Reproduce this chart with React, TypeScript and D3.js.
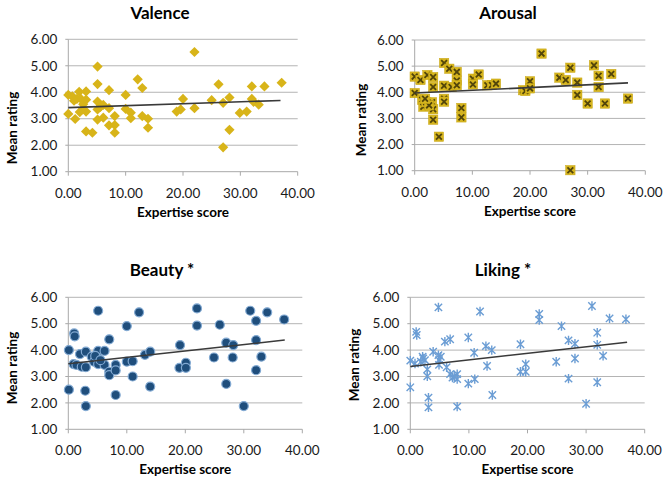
import React from "react";
import * as d3 from "d3";

// ---------- DATA ----------
const xTicks = [0, 10, 20, 30, 40];
const yTicks = [1, 2, 3, 4, 5, 6];
const panelTitles = ["Valence", "Arousal", "Beauty *", "Liking *"];
const xAxisTitle = "Expertise score";
const yAxisTitle = "Mean rating";

const valence: [number, number][] = [
  [0, 3.9], [0, 3.18], [0.7, 3.85], [1.2, 2.99], [1.5, 3.75], [1.9, 4.02], [2.2, 3.75], [2, 3.25],
  [2.6, 3.55], [3.1, 4.03], [3.1, 3.72], [3.1, 3.27], [3.1, 2.52], [4.2, 2.47], [5.1, 4.97], [5.1, 4.31],
  [5.1, 3.65], [5.1, 3.35], [5.1, 2.97], [5.6, 3.45], [6.1, 3.52], [6.1, 3.04], [7.1, 4.08], [7.1, 3.4],
  [7.1, 2.75], [8.1, 3.1], [8.1, 2.76], [8.1, 2.47], [10, 3.9], [10, 3.37], [10.9, 3.23], [10.9, 3.02],
  [12.1, 4.49], [12.9, 4.16], [12.9, 3.1], [13.9, 3.0], [13.9, 2.66], [18.9, 3.27], [19.6, 3.35], [20, 3.75],
  [22, 5.52], [22, 3.4], [25, 3.7], [26.2, 4.3], [27, 3.6], [27, 1.92], [28.1, 3.8], [28.1, 2.58],
  [29.9, 3.22], [31.1, 3.27], [32, 4.22], [32, 3.75], [32.3, 3.64], [33.2, 3.53], [34.2, 4.22], [37.2, 4.36],
  [1, 3.68], [2.5, 3.35],
];

const arousal: [number, number][] = [
  [0, 4.6], [0, 3.97], [1, 4.47], [1.3, 3.71], [1.5, 3.45], [2.2, 4.66], [2, 3.62], [3.2, 4.58],
  [3.2, 4.2], [3, 3.62], [3.2, 3.35], [3.2, 2.95], [4.2, 2.3], [5.1, 5.12], [5.1, 4.25], [5.1, 3.75],
  [5.1, 3.64], [6, 4.9], [6.4, 4.2], [7.3, 4.78], [7.3, 4.45], [7.3, 4.27], [8.1, 3.4], [8.1, 3.04],
  [10.1, 4.52], [10.1, 4.3], [11.1, 4.68], [12.6, 4.27], [13.4, 4.28], [14.1, 4.33], [18.8, 4.08], [19.2, 4.05],
  [20, 4.42], [20, 4.15], [22, 5.48], [25.1, 4.56], [26.2, 4.47], [27, 4.94], [27, 1.02], [28.2, 4.37],
  [28.2, 3.9], [30, 3.57], [31.1, 5.03], [31.9, 4.63], [31.9, 4.2], [33, 3.57], [34.1, 4.7], [37, 3.76],
  [2.5, 3.5], [1.8, 3.75],
];

const beauty: [number, number][] = [
  [0.1, 4.0], [0.1, 2.5], [1, 4.63], [1.1, 4.52], [0.9, 3.47], [1.4, 3.44], [2, 3.85], [2.3, 3.37],
  [3, 3.94], [3, 3.35], [2.9, 2.46], [3, 1.88], [4, 3.75], [4.4, 3.56], [5.1, 5.49], [5.1, 3.97],
  [5.1, 3.7], [5.1, 3.47], [6.2, 3.97], [6.2, 3.44], [7, 4.41], [7, 3.18], [7, 3.05], [8.1, 3.44],
  [8.1, 3.23], [8.1, 2.3], [10, 4.91], [10, 3.56], [11, 3.58], [11, 3.0], [12.1, 5.43], [13.1, 3.82],
  [14, 3.94], [14, 2.62], [19.1, 4.19], [19, 3.33], [20.1, 3.52], [20.1, 3.33], [22, 5.58], [22, 4.93],
  [24.9, 3.72], [25.9, 4.96], [27, 4.28], [27, 2.72], [28.2, 4.19], [28.1, 3.72], [30, 1.88], [31.1, 5.49],
  [32.1, 5.11], [32.1, 4.38], [32.1, 3.24], [33, 3.75], [34, 5.43], [36.9, 5.16], [4.6, 3.78], [5.5, 3.62],
];

const liking: [number, number][] = [
  [0, 3.6], [0, 2.59], [1, 4.69], [1.1, 4.57], [0.8, 3.49], [1.8, 3.56], [2.1, 3.75], [2.5, 3.62],
  [2.9, 3.27], [2.9, 3.01], [3.1, 2.2], [3.1, 1.83], [3.9, 3.94], [4.8, 5.62], [4.8, 3.81], [4.9, 3.62],
  [4.9, 3.44], [5.9, 4.32], [6.8, 4.41], [6.8, 3.09], [7.2, 2.96], [8, 3.09], [8, 2.9], [8, 1.86],
  [9.9, 4.48], [9.9, 2.73], [10.9, 3.9], [11, 2.9], [11.9, 5.46], [12.9, 4.15], [13.1, 3.4], [13.9, 4.0],
  [14, 2.3], [18.8, 4.22], [18.8, 3.18], [19.7, 3.47], [19.7, 3.18], [22, 5.37], [22, 5.14], [24.9, 3.56],
  [25.8, 4.91], [27, 4.37], [27, 2.92], [28.1, 4.24], [28.1, 3.68], [30, 1.97], [31, 5.67], [31.9, 4.66],
  [31.9, 4.2], [31.9, 2.78], [32.9, 3.78], [34, 5.2], [36.8, 5.17], [2.2, 3.68], [5.2, 3.75], [6.2, 3.35], [7.5, 3.0],
];

// Trend line endpoints: [x, y]
const valenceTrend: [number, number][] = [[0, 3.42], [37, 3.69]];
const arousalTrend: [number, number][] = [[0, 3.97], [37, 4.36]];
const beautyTrend: [number, number][] = [[0, 3.48], [37, 4.38]];
const likingTrend: [number, number][] = [[0, 3.38], [37, 4.3]];

// ---------- LAYOUT ----------
const FONT = "Lato, 'Open Sans', 'DejaVu Sans', sans-serif";
const layouts = [
  { left: 68.3, right: 297.7, top: 39.3, bottom: 171.7, titleX: 160, titleY: 19, yTitleX: 12, yTitleY: 128 },
  { left: 414.7, right: 645.3, top: 40, bottom: 170.7, titleX: 508, titleY: 19, yTitleX: 361, yTitleY: 120 },
  { left: 68.3, right: 302.3, top: 297.3, bottom: 429.3, titleX: 162, titleY: 276, yTitleX: 12, yTitleY: 368 },
  { left: 410.3, right: 644.7, top: 297.3, bottom: 429.3, titleX: 503, titleY: 276, yTitleX: 354, yTitleY: 365 },
];

type MarkerKind = "diamond" | "xsquare" | "circle" | "star";

function Marker({ kind, x, y }: { kind: MarkerKind; x: number; y: number }) {
  if (kind === "diamond") {
    const p = d3.symbol(d3.symbolSquare, 52)();
    return <path d={p || ""} transform={`translate(${x},${y}) rotate(45)`} fill="#D8B419" />;
  }
  if (kind === "xsquare") {
    const s = 4.7;
    const a = 2.9;
    return (
      <g transform={`translate(${x},${y})`}>
        <rect x={-s} y={-s} width={2 * s} height={2 * s} fill="#D6B51E" stroke="#C9A818" strokeWidth={0.5} />
        <path d={`M${-a},${-a}L${a},${a}M${-a},${a}L${a},${-a}`} stroke="#52450A" strokeWidth={1.8} />
      </g>
    );
  }
  if (kind === "circle") {
    return <circle cx={x} cy={y} r={4.5} fill="#1F4E7C" stroke="#82A9D2" strokeWidth={1.2} />;
  }
  const a = 3.7;
  const v = 4.7;
  return (
    <path
      d={`M${x - a},${y - a}L${x + a},${y + a}M${x - a},${y + a}L${x + a},${y - a}M${x},${y - v}L${x},${y + v}`}
      stroke="#6B9DD4"
      strokeWidth={1.4}
      fill="none"
    />
  );
}

function Panel({
  idx,
  data,
  trend,
  kind,
}: {
  idx: number;
  data: [number, number][];
  trend: [number, number][];
  kind: MarkerKind;
}) {
  const L = layouts[idx];
  const x = d3.scaleLinear().domain([0, 40]).range([L.left, L.right]);
  const y = d3.scaleLinear().domain([1, 6]).range([L.bottom, L.top]);
  const line = d3
    .line<[number, number]>()
    .x((d) => x(d[0]))
    .y((d) => y(d[1]));
  const fmt = d3.format(".2f");
  return (
    <g>
      <text
        x={L.titleX}
        y={L.titleY}
        textAnchor="middle"
        fontFamily={FONT}
        fontWeight="bold"
        fontSize={17}
        fill="#000"
      >
        {panelTitles[idx]}
      </text>
      {yTicks.map((t) => (
        <g key={"gy" + t}>
          {t > 1 && (
            <line x1={L.left} x2={L.right} y1={y(t)} y2={y(t)} stroke="#B4B4B4" strokeWidth={1} />
          )}
          <line x1={L.left - 3} x2={L.left} y1={y(t)} y2={y(t)} stroke="#A8A8A8" strokeWidth={1} />
          <text
            x={L.left - 11}
            y={y(t)}
            dy="0.35em"
            textAnchor="end"
            fontFamily={FONT}
            fontSize={13.5}
            fill="#1a1a1a"
          >
            {fmt(t)}
          </text>
        </g>
      ))}
      <line x1={L.left} x2={L.left} y1={L.top} y2={L.bottom} stroke="#A8A8A8" strokeWidth={1} />
      <line x1={L.left} x2={L.right} y1={L.bottom} y2={L.bottom} stroke="#A8A8A8" strokeWidth={1} />
      {xTicks.map((t) => (
        <g key={"gx" + t}>
          <line x1={x(t)} x2={x(t)} y1={L.bottom} y2={L.bottom + 4} stroke="#A8A8A8" strokeWidth={1} />
          <text
            x={x(t)}
            y={L.bottom + 26}
            textAnchor="middle"
            fontFamily={FONT}
            fontSize={13.5}
            fill="#1a1a1a"
          >
            {fmt(t)}
          </text>
        </g>
      ))}
      <text
        x={(L.left + L.right) / 2}
        y={L.bottom + 45}
        textAnchor="middle"
        fontFamily={FONT}
        fontWeight="bold"
        fontSize={13.5}
        fill="#000"
      >
        {xAxisTitle}
      </text>
      <text
        transform={`translate(${L.yTitleX},${L.yTitleY}) rotate(-90)`}
        textAnchor="middle"
        dy="0.35em"
        fontFamily={FONT}
        fontWeight="bold"
        fontSize={13.5}
        fill="#000"
      >
        {yAxisTitle}
      </text>
      {data.map((d, i) => (
        <Marker key={i} kind={kind} x={x(d[0])} y={y(d[1])} />
      ))}
      <path d={line(trend) || ""} stroke="#3A3A3A" strokeWidth={1.6} fill="none" />
    </g>
  );
}

export default function App() {
  return (
    <svg
      width={666}
      height={481}
      style={{ position: "absolute", left: 0, top: 0, background: "#fff" }}
    >
      <rect width={666} height={481} fill="#fff" />
      <Panel idx={0} data={valence} trend={valenceTrend} kind="diamond" />
      <Panel idx={1} data={arousal} trend={arousalTrend} kind="xsquare" />
      <Panel idx={2} data={beauty} trend={beautyTrend} kind="circle" />
      <Panel idx={3} data={liking} trend={likingTrend} kind="star" />
    </svg>
  );
}
